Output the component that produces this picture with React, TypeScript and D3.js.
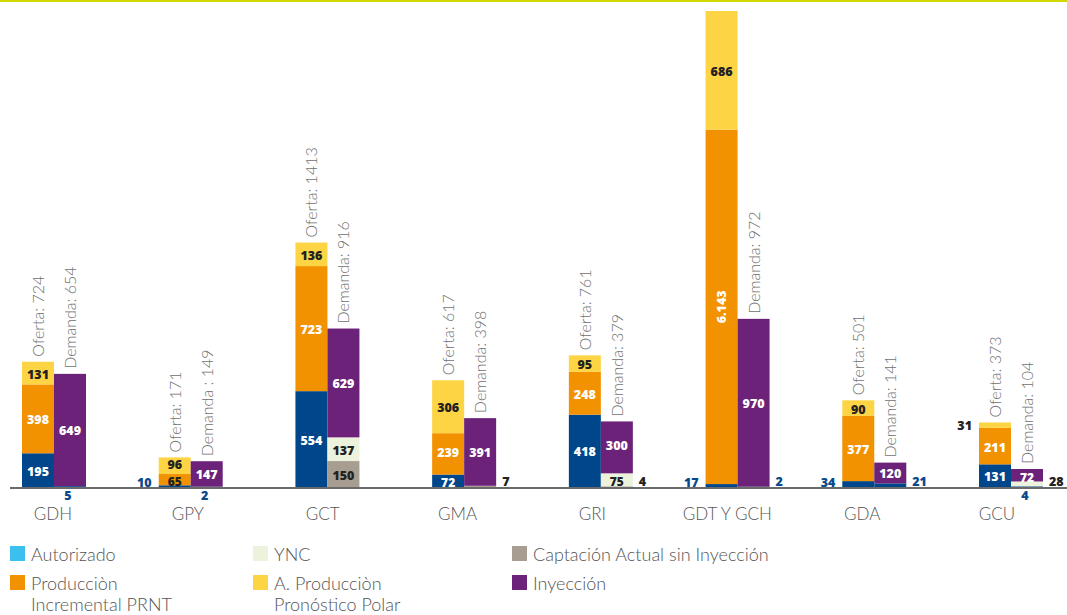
import { useEffect, useRef } from "react";
import * as d3 from "d3";

// grupos / categorias del eje x
const GROUPS = ["GDH", "GPY", "GCT", "GMA", "GRI", "GDT Y GCH", "GDA", "GCU"];

// oferta (barra izquierda)
const OFERTA_AUTORIZADO = [195, 10, 554, 72, 418, 17, 34, 131];
const OFERTA_INCREMENTAL = [398, 65, 723, 239, 248, 6143, 377, 211];
const OFERTA_POLAR = [131, 96, 136, 306, 95, 686, 90, 31];

// demanda (barra derecha)
const DEMANDA_AUTORIZADO = [5, 2, 0, 0, 0, 2, 21, 4];
const DEMANDA_CAPTACION = [0, 0, 150, 7, 4, 0, 0, 0];
const DEMANDA_YNC = [0, 0, 137, 0, 75, 0, 0, 28];
const DEMANDA_INYECCION = [649, 147, 629, 391, 300, 970, 120, 72];

const LEGEND = [
  { key: "autorizado", color: "#3bbfef", lines: ["Autorizado"] },
  { key: "ync", color: "#ecf2dc", lines: ["YNC"] },
  { key: "captacion", color: "#a89d91", lines: ["Captación Actual sin Inyección"] },
  { key: "incremental", color: "#f39200", lines: ["Producciòn", "Incremental PRNT"] },
  { key: "polar", color: "#fdd443", lines: ["A. Producciòn", "Pronóstico Polar"] },
  { key: "inyeccion", color: "#6b2278", lines: ["Inyección"] },
];

const W = 1067;
const H = 615;
const BASE = 487;
const TOP = 11;
const K = 0.173; // px por unidad en la zona lineal
const BAR_W = 32;
// corte del eje (la barra de GDT Y GCH es mucho mas alta)
const BREAK_LOW = 1600;
const BREAK_HIGH = 6160;

const COLORS: Record<string, string> = {
  autorizado: "#00468b",
  incremental: "#f39200",
  polar: "#fdd443",
  captacion: "#a89d91",
  ync: "#ecf2dc",
  inyeccion: "#6b2278",
};
const DARK_TEXT = new Set(["polar", "captacion", "ync"]);
// etiquetas pequeñas de demanda que van debajo de la barra
const BELOW = new Set(["GDH", "GPY", "GCU"]);

const LIGHT = "Lato, 'Open Sans', sans-serif";
const BOLD = "'Open Sans', sans-serif";

const fmt = d3
  .formatLocale({ decimal: ",", thousands: ".", grouping: [3], currency: ["", ""] })
  .format(",d");

export default function App() {
  const ref = useRef<SVGSVGElement>(null);

  useEffect(() => {
    const svg = d3.select(ref.current);
    svg.selectAll("*").remove();

    const oferta = GROUPS.map((g, i) => ({
      group: g,
      autorizado: OFERTA_AUTORIZADO[i],
      incremental: OFERTA_INCREMENTAL[i],
      polar: OFERTA_POLAR[i],
    }));
    const demanda = GROUPS.map((g, i) => ({
      group: g,
      autorizado: DEMANDA_AUTORIZADO[i],
      captacion: DEMANDA_CAPTACION[i],
      ync: DEMANDA_YNC[i],
      inyeccion: DEMANDA_INYECCION[i],
    }));

    const maxTotal = d3.max(oferta, (d) => d.autorizado + d.incremental + d.polar)!;

    const x = d3.scalePoint<string>().domain(GROUPS).range([54, 1011]);
    const xLabel = d3.scalePoint<string>().domain(GROUPS).range([53, 997]);
    const y = d3
      .scaleLinear()
      .domain([0, BREAK_LOW, BREAK_HIGH, maxTotal])
      .range([BASE, BASE - BREAK_LOW * K, TOP + (maxTotal - BREAK_HIGH) * K, TOP]);

    // linea superior
    svg.append("rect").attr("x", 0).attr("y", 0).attr("width", W).attr("height", 2).attr("fill", "#d2d700");

    const drawSide = (rows: any[], keys: string[], side: "oferta" | "demanda") => {
      const series = d3.stack<any>().keys(keys)(rows);
      const g = svg.append("g");
      const barX = (d: any) => (side === "oferta" ? x(d.data.group)! - BAR_W : x(d.data.group)!);
      // altura del segmento anterior con etiqueta, por grupo
      const prevH: Record<string, number> = {};

      series.forEach((s) => {
        const key = s.key;
        s.forEach((d: any) => {
          const v = d[1] - d[0];
          if (!v) return;
          const grp = d.data.group;
          const x0 = barX(d);
          const y0 = y(d[0]);
          const y1 = y(d[1]);
          const h = y0 - y1;
          g.append("rect")
            .attr("x", x0)
            .attr("y", y1)
            .attr("width", BAR_W)
            .attr("height", Math.max(h, 0.8))
            .attr("fill", COLORS[key]);

          const mid = (y0 + y1) / 2;
          const txt = g.append("text").attr("font-family", BOLD).attr("font-weight", 800).attr("font-size", 12.5);
          if (h >= 9) {
            const dark = DARK_TEXT.has(key) || (key === "incremental" && h < 14);
            // separar etiquetas de segmentos bajos contiguos
            let dy = 1;
            if (h < 14) dy = 2;
            else if (prevH[grp] !== undefined && prevH[grp] < 14) dy = -1.5;
            prevH[grp] = h;
            txt
              .attr("fill", dark ? "#222" : "#fff")
              .attr("text-anchor", "middle")
              .attr("dominant-baseline", "central")
              .attr("font-size", h < 14 ? 12 : 12.5)
              .text(fmt(v));
            if (v >= 1000) {
              txt.attr("transform", `translate(${x0 + BAR_W / 2},${mid}) rotate(-90)`);
            } else {
              txt.attr("x", x0 + BAR_W / 2).attr("y", mid + dy);
            }
          } else {
            const color = key === "autorizado" ? "#0a4a8c" : "#222";
            txt.attr("fill", color).attr("dominant-baseline", "central").text(fmt(v));
            if (side === "oferta") {
              txt.attr("text-anchor", "end").attr("x", x0 - 7).attr("y", Math.min(mid, BASE - 5));
            } else if (key === "autorizado" && BELOW.has(grp)) {
              txt.attr("text-anchor", "middle").attr("x", x0 + BAR_W / 2 - 2).attr("y", BASE + 8);
            } else {
              txt.attr("text-anchor", "start").attr("x", x0 + BAR_W + 6).attr("y", Math.min(mid, BASE - 6));
            }
          }
        });
      });

      // total rotado encima de la barra (la barra cortada no lleva total: queda fuera)
      const last = series[series.length - 1];
      last.forEach((d: any) => {
        const total = d[1];
        if (total > BREAK_LOW) return;
        const cx = barX(d) + BAR_W / 2;
        const label =
          side === "oferta"
            ? `Oferta: ${total}`
            : d.data.group === "GPY"
            ? `Demanda : ${total}`
            : `Demanda: ${total}`;
        g.append("text")
          .attr("transform", `translate(${cx + 6},${y(total) - 5}) rotate(-90)`)
          .attr("font-family", LIGHT)
          .attr("font-weight", 300)
          .attr("font-size", 16)
          .attr("fill", "#707070")
          .text(label);
      });
    };

    drawSide(oferta, ["autorizado", "incremental", "polar"], "oferta");
    drawSide(demanda, ["autorizado", "captacion", "ync", "inyeccion"], "demanda");

    // linea base
    svg.append("line").attr("x1", 10).attr("x2", W).attr("y1", BASE + 1).attr("y2", BASE + 1)
      .attr("stroke", "#6a6a6a").attr("stroke-width", 2);

    // etiquetas de categoria
    svg.append("g")
      .selectAll("text")
      .data(GROUPS)
      .join("text")
      .attr("x", (d) => xLabel(d)!)
      .attr("y", 520)
      .attr("text-anchor", "middle")
      .attr("font-family", LIGHT)
      .attr("font-weight", 300)
      .attr("font-size", 17)
      .attr("fill", "#555")
      .text((d) => d);

    // leyenda
    const cols = [10, 253, 512];
    const rowsY = [546, 575];
    const lg = svg.append("g");
    LEGEND.forEach((item, i) => {
      const lx = cols[i % 3];
      const ly = rowsY[Math.floor(i / 3)];
      lg.append("rect").attr("x", lx).attr("y", ly).attr("width", 15).attr("height", 15).attr("fill", item.color);
      item.lines.forEach((line, j) => {
        lg.append("text")
          .attr("x", lx + 21)
          .attr("y", ly + 15 + j * 21)
          .attr("font-family", LIGHT)
          .attr("font-weight", 300)
          .attr("font-size", 18)
          .attr("fill", "#555")
          .text(line);
      });
    });
  }, []);

  return (
    <svg
      ref={ref}
      width={W}
      height={H}
      style={{ position: "absolute", left: 0, top: 0, background: "#fff" }}
    />
  );
}
